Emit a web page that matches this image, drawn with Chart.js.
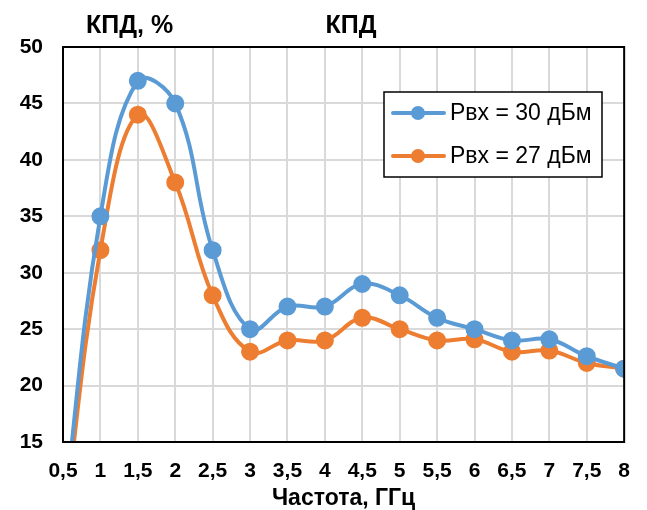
<!DOCTYPE html>
<html><head><meta charset="utf-8">
<script src="https://cdn.jsdelivr.net/npm/chart.js@4/dist/chart.umd.min.js"></script>
<style>html,body{margin:0;padding:0;background:#fff}#wrap{width:647px;height:510px}</style>
</head><body><div id="wrap"><canvas id="c" width="647" height="510"></canvas></div>
<script>
const frequencies = [0.5,1,1.5,2,2.5,3,3.5,4,4.5,5,5.5,6,6.5,7,7.5,8];
const eff30 = [8,35,47,45,32,25,27,27,29,28,26,25,24,24.1,22.6,21.5];
const eff27 = [7,32,44,38,28,23,24,24,26,25,24,24.1,23,23.1,22,21.5];
const seriesLabels = ['Рвх = 30 дБм','Рвх = 27 дБм'];
const chartTitle = 'КПД';
const yAxisTitle = 'КПД, %';
const xAxisTitle = 'Частота, ГГц';
const yMin = 15, yMax = 50, yStep = 5;
const xMin = 0.5, xMax = 8, xStep = 0.5;

const FONT = '"Liberation Sans", Arial, sans-serif';
const colors = ['#5B9BD5','#ED7D31'];
const pts = arr => arr.map((v,i)=>({x:frequencies[i], y:v}));
const radii = frequencies.map((f,i)=> i===0 ? 0 : 7);

const overlay = {
  id:'overlay',
  afterDraw(chart){
    const ctx = chart.ctx, a = chart.chartArea;
    ctx.save();
    ctx.strokeStyle = '#000'; ctx.lineWidth = 2;
    ctx.strokeRect(a.left, a.top, a.right-a.left, a.bottom-a.top);
    ctx.fillStyle = '#000';
    ctx.font = 'bold 25px ' + FONT;
    ctx.textBaseline = 'alphabetic';
    ctx.textAlign = 'left';
    ctx.fillText(yAxisTitle, 86, 33);
    ctx.textAlign = 'center';
    ctx.fillText(chartTitle, 351, 33);
    const bx = 384, by = 92, bw = 218, bh = 85;
    ctx.fillStyle = '#fff';
    ctx.fillRect(bx, by, bw, bh);
    ctx.strokeStyle = '#000'; ctx.lineWidth = 1.5;
    ctx.strokeRect(bx, by, bw, bh);
    const rows = [113, 156];
    chart.data.datasets.forEach((ds, i) => {
      const y = rows[i];
      ctx.strokeStyle = ds.borderColor; ctx.lineWidth = 4; ctx.lineCap = 'round';
      ctx.beginPath(); ctx.moveTo(393, y); ctx.lineTo(444, y); ctx.stroke();
      ctx.fillStyle = ds.borderColor;
      ctx.beginPath(); ctx.arc(418, y, 7, 0, Math.PI*2); ctx.fill();
      ctx.fillStyle = '#000';
      ctx.font = '23px ' + FONT;
      ctx.textAlign = 'left'; ctx.textBaseline = 'middle';
      ctx.fillText(ds.label, 450, y + 1);
    });
    ctx.restore();
  }
};

new Chart(document.getElementById('c'), {
  type:'line',
  data:{
    datasets:[
      {label:seriesLabels[0], data:pts(eff30), borderColor:colors[0], backgroundColor:colors[0],
       borderWidth:4, pointRadius:radii, pointHoverRadius:radii, tension:0.4, clip:0},
      {label:seriesLabels[1], data:pts(eff27), borderColor:colors[1], backgroundColor:colors[1],
       borderWidth:4, pointRadius:radii, pointHoverRadius:radii, tension:0.4, clip:0}
    ]
  },
  options:{
    responsive:false, animation:false, devicePixelRatio:1,
    layout:{padding:{top:47, right:22, left:0, bottom:0}},
    plugins:{legend:{display:false}, title:{display:false}, tooltip:{enabled:false}},
    scales:{
      x:{type:'linear', min:xMin, max:xMax,
         afterFit(s){ s.height = 68; },
         afterBuildTicks(s){ s.ticks = frequencies.map(v=>({value:v})); },
         ticks:{stepSize:xStep, autoSkip:false, maxRotation:0, color:'#000', padding:17,
                font:{family:FONT, size:21, weight:'bold'},
                callback:v => String(v).replace('.', ',')},
         grid:{color:'#d9d9d9', lineWidth:2, drawTicks:false},
         border:{display:false},
         title:{display:true, text:xAxisTitle, color:'#000', padding:{top:0,bottom:0},
                font:{family:FONT, size:23, weight:'bold', lineHeight:1.0}}},
      y:{min:yMin, max:yMax,
         afterFit(s){ s.width = 63; },
         ticks:{stepSize:yStep, color:'#000', padding:20,
                font:{family:FONT, size:21, weight:'bold'}},
         grid:{color:'#d9d9d9', lineWidth:2, drawTicks:false},
         border:{display:false}}
    }
  },
  plugins:[overlay]
});
</script></body></html>
